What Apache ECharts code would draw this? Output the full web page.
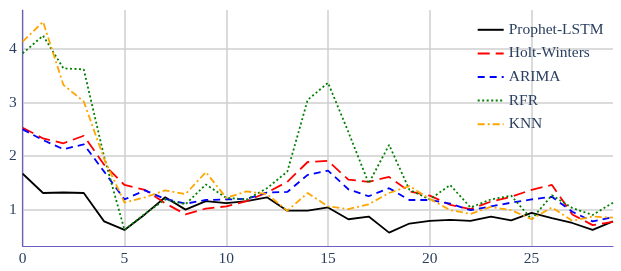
<!DOCTYPE html>
<html>
<head>
<meta charset="utf-8">
<script src="https://cdn.jsdelivr.net/npm/echarts@6/dist/echarts.min.js"></script>
<style>
  html, body { margin: 0; padding: 0; background: #fff; }
  #main { width: 621px; height: 271px; }
</style>
</head>
<body>
<div id="main"></div>
<script>
var steps = [];
for (var i = 0; i < 30; i++) steps.push(i);

var prophetLstm = [1.67,1.31,1.32,1.31,0.78,0.62,0.91,1.23,1.00,1.16,1.12,1.16,1.23,0.98,0.98,1.04,0.82,0.87,0.57,0.74,0.79,0.81,0.79,0.87,0.80,0.94,0.84,0.75,0.62,0.78];
var holtWinters = [2.53,2.33,2.24,2.38,1.84,1.46,1.37,1.12,0.91,1.02,1.06,1.16,1.32,1.52,1.89,1.91,1.56,1.52,1.61,1.34,1.26,1.09,1.01,1.15,1.24,1.37,1.46,0.91,0.71,0.77];
var arima = [2.50,2.30,2.13,2.22,1.71,1.19,1.36,1.20,1.11,1.18,1.19,1.20,1.32,1.33,1.65,1.73,1.38,1.25,1.40,1.18,1.18,1.11,0.99,1.06,1.13,1.19,1.24,0.96,0.78,0.86];
var rfr = [3.92,4.25,3.64,3.62,1.99,0.62,0.92,1.19,1.10,1.47,1.22,1.19,1.40,1.71,3.05,3.37,2.45,1.49,2.21,1.37,1.19,1.46,1.04,1.19,1.26,0.82,1.27,1.03,0.90,1.13];
var knn = [4.14,4.51,3.33,3.02,1.95,1.13,1.23,1.36,1.29,1.70,1.22,1.34,1.29,0.98,1.31,1.06,1.01,1.10,1.31,1.44,1.20,0.99,0.92,1.05,0.99,0.82,1.04,0.79,0.87,0.85];

var xTicks = [0, 5, 10, 15, 20, 25];
var yTicks = [1, 2, 3, 4];

function pairs(vals) {
  return steps.map(function (s, k) { return [s, vals[k]]; });
}

var myChart = echarts.init(document.getElementById('main'));
var font = 'Liberation Serif';
var textColor = '#2a3f5f';
var gridColor = '#cfcfcf';

function line(name, vals, color, width, dash) {
  return {
    name: name,
    type: 'line',
    data: pairs(vals),
    symbol: 'none',
    lineStyle: { color: color, width: width, type: dash },
    itemStyle: { color: color }
  };
}

var option = {
  animation: false,
  grid: { left: 22.7, right: 8, top: 10, bottom: 25, containLabel: false },
  legend: {
    orient: 'vertical',
    left: 476.7,
    top: 21.8,
    padding: 0,
    itemWidth: 26,
    itemHeight: 15,
    itemGap: 7.6,
    itemStyle: { opacity: 0 },
    textStyle: { fontFamily: font, fontSize: 15.5, color: textColor, lineHeight: 15 },
    data: ['Prophet-LSTM', 'Holt-Winters', 'ARIMA', 'RFR', 'KNN']
  },
  xAxis: {
    type: 'value',
    min: 0,
    max: 29,
    interval: 5,
    axisLine: { show: true, lineStyle: { color: '#6a5fc0', width: 1.2 } },
    axisTick: { show: false, customValues: xTicks },
    axisLabel: { customValues: xTicks, fontFamily: font, fontSize: 15.5, color: textColor, margin: 5 },
    splitLine: { show: true, lineStyle: { color: gridColor, width: 1.5 } }
  },
  yAxis: {
    type: 'value',
    min: 0.32,
    max: 4.73,
    axisLine: { show: true, lineStyle: { color: '#6a5fc0', width: 1.2 } },
    axisTick: { show: false, customValues: yTicks },
    axisLabel: { customValues: yTicks, fontFamily: font, fontSize: 15.5, color: textColor, margin: 6 },
    splitLine: { show: true, lineStyle: { color: gridColor, width: 1.5 } }
  },
  series: [
    line('Prophet-LSTM', prophetLstm, '#000000', 1.8, 'solid'),
    line('Holt-Winters', holtWinters, '#ff0000', 1.8, [12, 6]),
    line('ARIMA', arima, '#0000ff', 1.8, [7, 5]),
    line('RFR', rfr, '#008000', 1.8, [2, 2.5]),
    line('KNN', knn, '#ffa500', 1.8, [7, 3, 2, 3])
  ]
};
myChart.setOption(option);
</script>
</body>
</html>
